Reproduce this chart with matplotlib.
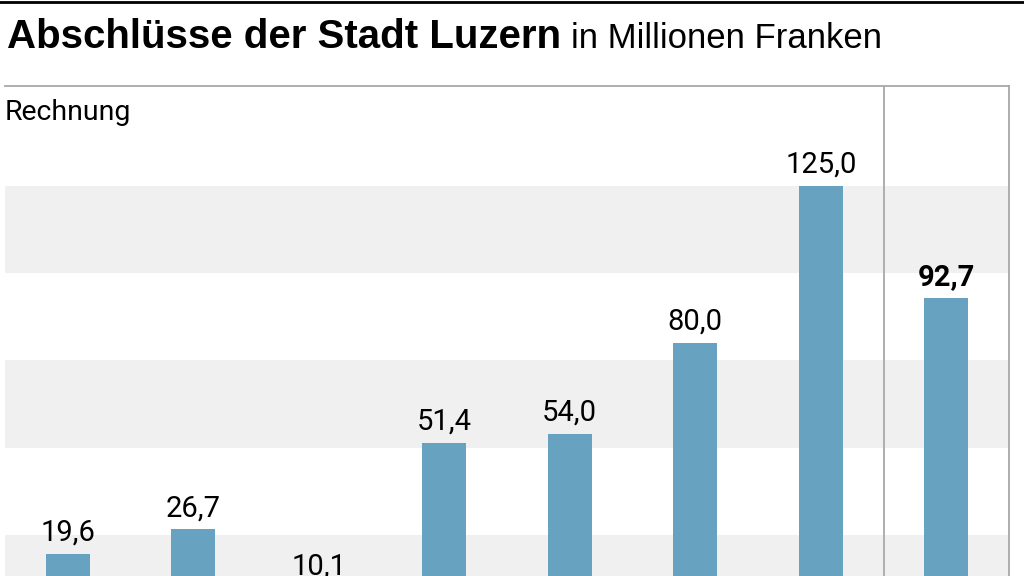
import matplotlib.pyplot as plt

# Rechnungsabschluesse in Mio. CHF (Jahre liegen unterhalb des Bildausschnitts)
werte = [19.6, 26.7, 10.1, 51.4, 54.0, 80.0, 125.0, 92.7]
hervorgehoben = [False, False, False, False, False, False, False, True]
baender = [0, 50, 100]  # Beginn der grauen Streifen, je 25 breit
abschnitt = "Rechnung"
titel = "Abschlüsse der Stadt Luzern"
untertitel = "in Millionen Franken"

BAR = "#67a2c1"
BAND = "#f0f0f0"
LINIE = "#a8a8a8"
SCHMAL = ["Roboto", "DejaVu Sans"]
BREIT = ["Liberation Sans", "DejaVu Sans"]

fig = plt.figure(figsize=(10.24, 5.76), dpi=100)
ax = fig.add_axes([5 / 1024, 0, 1004 / 1024, 490 / 576])

for b in baender:
    ax.axhspan(b, b + 25, color=BAND, lw=0, zorder=0)

x = list(range(len(werte)))
ax.bar(x, werte, width=0.35, color=BAR, zorder=2)

for xi, v, fett in zip(x, werte, hervorgehoben):
    ax.annotate(f"{v:.1f}".replace(".", ","), (xi, v), xytext=(0, 5),
                textcoords="offset points", ha="center", va="bottom",
                fontsize=21, family=SCHMAL, annotation_clip=False,
                fontweight="bold" if fett else "normal", zorder=3)

ax.axvline(len(werte) - 1.5, color=LINIE, lw=1.3, zorder=1)
ax.set_xlim(-0.5, len(werte) - 0.5)
ax.set_ylim(13.26, 153.5)
ax.set_xticks([])
ax.set_yticks([])
for s in ["left", "bottom"]:
    ax.spines[s].set_visible(False)
for s in ["top", "right"]:
    ax.spines[s].set_color(LINIE)
    ax.spines[s].set_linewidth(1.3)

ax.text(0, 1 - 26 / 490, abschnitt, transform=ax.transAxes, ha="left", va="center",
        fontsize=20.5, family=SCHMAL)

# schwarze Linie ganz oben
fig.add_artist(plt.Line2D([0, 1], [1 - 2 / 576, 1 - 2 / 576], color="black", lw=2,
                          transform=fig.transFigure))

t = fig.text(7 / 1024, 1 - 48 / 576, titel, ha="left", va="baseline",
             fontsize=29, fontweight="bold", family=BREIT)
fig.canvas.draw()
bb = t.get_window_extent()
fig.text((bb.x1 + 10) / 1024, 1 - 48 / 576, untertitel, ha="left", va="baseline",
         fontsize=25, family=BREIT)

fig.savefig("out.png", dpi=100)
